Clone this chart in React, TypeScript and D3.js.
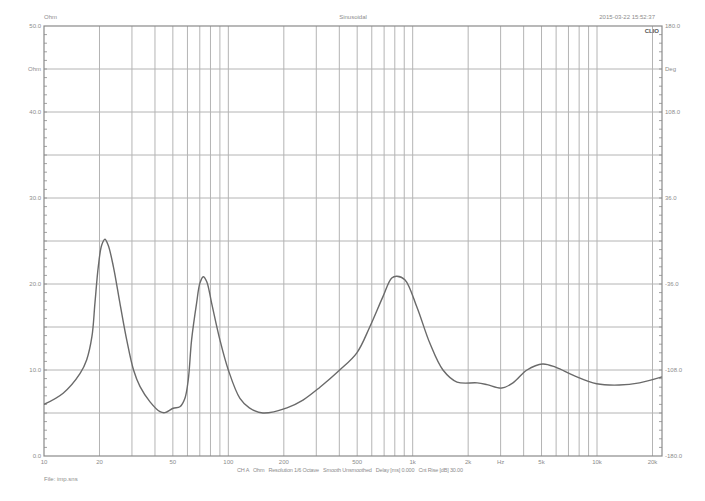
import * as d3 from "d3";

// impedance curve
const freqs = [
  10, 12.7, 15.7, 17.05, 18.2, 18.9, 19.7, 20.55, 21.4, 22.3, 23.8, 25.8, 28.1, 30.6, 33.2,
  37.6, 42.6, 45.3, 50.2, 54.6, 58.1, 60.6, 63.2, 67.3, 70.1, 73.1, 76.3, 81.2, 90, 100,
  115.6, 130, 154, 208, 254, 314, 402, 498, 585, 689, 770, 821, 907, 1055, 1240, 1460, 1740,
  2240, 2530, 3040, 3500, 4170, 5070, 6000, 7400, 9960, 13200, 17000, 22500,
];
const ohms = [
  6.0, 7.3, 9.6, 11.2, 13.9, 17.8, 22.0, 24.5, 25.2, 24.5, 22.0, 17.8, 13.5, 10.0, 8.06,
  6.3, 5.15, 5.04, 5.55, 5.73, 6.7, 8.84, 13.5, 17.8, 20.1, 20.85, 20.3, 17.75, 13.5, 10.0,
  6.7, 5.6, 5.0, 5.6, 6.5, 8.0, 10.0, 12.0, 15.0, 18.5, 20.7, 20.9, 20.5, 17.3, 13.1, 10.0,
  8.6, 8.5, 8.3, 7.9, 8.5, 10.0, 10.7, 10.3, 9.4, 8.4, 8.25, 8.5, 9.2,
];

const xTickValues = [10, 20, 50, 100, 200, 500, 1000, 2000, 5000, 10000, 20000];
const xTickLabels = ["10", "20", "50", "100", "200", "500", "1k", "2k", "5k", "10k", "20k"];
const leftTicks = [50, 40, 30, 20, 10, 0];
const rightTicks = [180, 108, 36, -36, -108, -180];

const W = 705;
const H = 501;
const left = 44;
const right = 662;
const top = 26;
const bottom = 456;

const gridColor = "#b4b4b4";
const frameColor = "#8a8a8a";
const textColor = "#8c8c8c";
const font = "Liberation Sans, Arial, sans-serif";

export default function App() {
  const x = d3.scaleLog().domain([10, 20000]).range([left, 652.5]);
  const y = d3.scaleLinear().domain([0, 50]).range([bottom, top]);
  const yr = d3.scaleLinear().domain([-180, 180]).range([bottom, top]);

  // vertical grid: 20..90, 100..900, ... , up to 20k
  const vLines: number[] = [];
  for (let dec = 10; dec <= 10000; dec *= 10) {
    for (let m = 1; m <= 9; m++) {
      const f = dec * m;
      if (f > 10 && f <= 20000) vLines.push(f);
    }
  }
  vLines.push(20000);

  const hLines = d3.range(5, 50, 5);
  const minorLeft = d3.range(1, 50, 1);
  const minorRight = d3.range(-180 + 7.2, 180, 7.2);

  const line = d3
    .line<number>()
    .x((_, i) => x(freqs[i]))
    .y((d) => y(d))
    .curve(d3.curveCatmullRom.alpha(0.5));

  return (
    <svg
      width={W}
      height={H}
      style={{ position: "absolute", left: 0, top: 0, background: "#fff" }}
      fontFamily={font}
    >
      <defs>
        <clipPath id="plot">
          <rect x={left} y={top} width={right - left} height={bottom - top} />
        </clipPath>
      </defs>

      {hLines.map((v) => (
        <line key={"h" + v} x1={left} x2={right} y1={y(v)} y2={y(v)} stroke={gridColor} strokeWidth={1} />
      ))}
      {vLines.map((f) => (
        <line key={"v" + f} x1={x(f)} x2={x(f)} y1={top} y2={bottom} stroke={gridColor} strokeWidth={1} />
      ))}

      {minorLeft.map((v) => (
        <line key={"ml" + v} x1={left} x2={left + 3} y1={y(v)} y2={y(v)} stroke={frameColor} strokeWidth={0.8} />
      ))}
      {minorRight.map((v) => (
        <line key={"mr" + v} x1={right - 3} x2={right} y1={yr(v)} y2={yr(v)} stroke={frameColor} strokeWidth={0.8} />
      ))}

      <rect x={left} y={top} width={right - left} height={bottom - top} fill="none" stroke={frameColor} strokeWidth={1.2} />

      <path d={line(ohms) ?? ""} fill="none" stroke="#6a6a6a" strokeWidth={1.4} clipPath="url(#plot)" />

      <g fill={textColor} fontSize={6}>
        <text x={left} y={19}>Ohm</text>
        <text x={353} y={19} textAnchor="middle">Sinusoidal</text>
        <text x={655} y={19} textAnchor="end">2015-03-22 15:52:37</text>
        <text x={659} y={33} textAnchor="end" fill="#555" fontWeight="bold">CLIO</text>

        {leftTicks.map((v) => (
          <text key={"lt" + v} x={left - 3} y={y(v) + 2} textAnchor="end">
            {v.toFixed(1)}
          </text>
        ))}
        <text x={left - 3} y={y(45) + 2} textAnchor="end">Ohm</text>

        {rightTicks.map((v) => (
          <text key={"rt" + v} x={right + 3} y={yr(v) + 2}>
            {v.toFixed(1)}
          </text>
        ))}
        <text x={right + 3} y={yr(144) + 2}>Deg</text>

        {xTickValues.map((f, i) => (
          <text key={"xt" + f} x={x(f)} y={464} textAnchor="middle">
            {xTickLabels[i]}
          </text>
        ))}
        <text x={x(3000)} y={464} textAnchor="middle">Hz</text>

        <text x={237} y={472} fontSize={5.5} xmlSpace="preserve" textLength={226} lengthAdjust="spacing">
          {"CH A   Ohm   Resolution 1/6 Octave   Smooth Unsmoothed   Delay [ms] 0.000   Cnt Rise [dB] 30.00"}
        </text>
        <text x={left} y={481}>File: imp.sns</text>
      </g>
    </svg>
  );
}
